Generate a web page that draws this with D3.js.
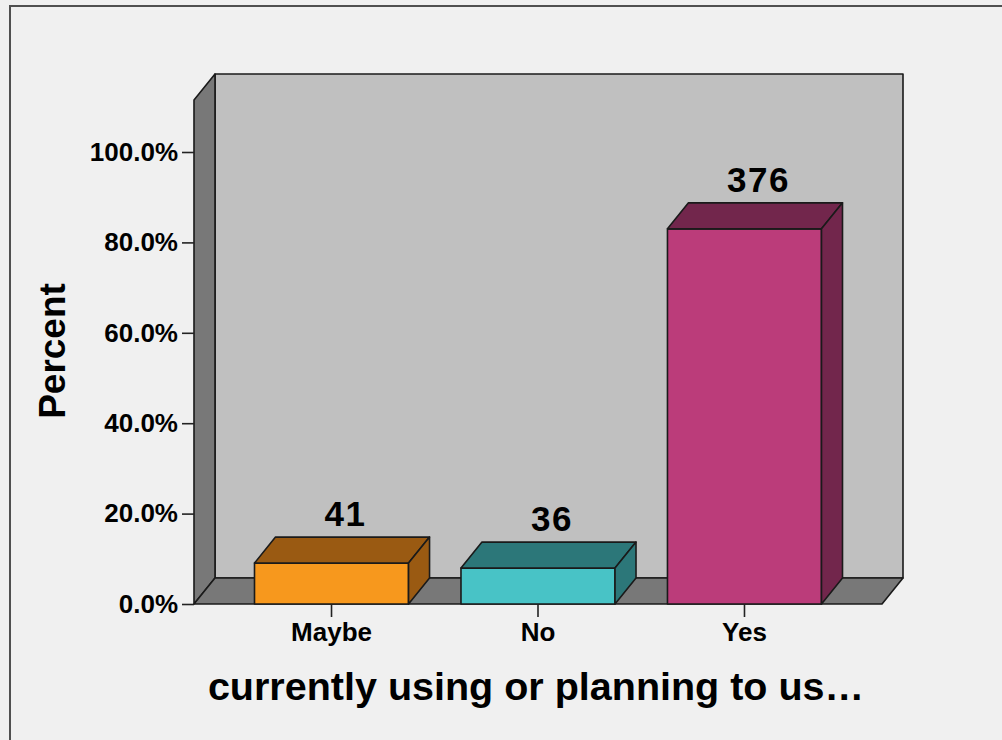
<!DOCTYPE html>
<html>
<head>
<meta charset="utf-8">
<script src="https://cdn.jsdelivr.net/npm/d3@7"></script>
<style>
  html, body { margin: 0; padding: 0; background: #f0f0f0; }
  svg { display: block; font-family: "Liberation Sans", Arial, sans-serif; }
</style>
</head>
<body>
<svg id="chart" width="1002" height="740"></svg>
<script>
// ---- data ----
const categories = ["Maybe", "No", "Yes"];
const counts = [41, 36, 376];
const frontColors = ["#f7981d", "#48c3c6", "#bb3c7a"];
const darkColors = ["#9a5a12", "#2c7779", "#72264c"];
const yTicks = [0, 20, 40, 60, 80, 100];
const yAxisMax = 111.5;
const yTitle = "Percent";
const xTitle = "currently using or planning to us\u2026";

const total = d3.sum(counts);
const percents = counts.map(c => c / total * 100);

// ---- layout ----
const svg = d3.select("#chart");
const W = 1002, H = 740;
const x0 = 194, x1 = 882;      // front floor edge
const yBottom = 604, yTop100 = 152;
const dx = 21, dy = -26;       // depth offset

svg.append("rect").attr("x", 0).attr("y", 0).attr("width", W).attr("height", H).attr("fill", "#f0f0f0");
// outer frame
svg.append("rect").attr("x", 10).attr("y", 6).attr("width", 1100).attr("height", 800)
  .attr("fill", "none").attr("stroke", "#505050").attr("stroke-width", 2);

const y = d3.scaleLinear().domain([0, 100]).range([yBottom, yTop100]);
const x = d3.scaleBand().domain(categories).range([x0, x1]).paddingInner(0.254).paddingOuter(0.293);

const yWallTop = y(yAxisMax);
const stroke = "#1a1a1a", sw = 1.6;

// back wall
svg.append("polygon")
  .attr("points", [[x0 + dx, yWallTop + dy], [x1 + dx, yWallTop + dy], [x1 + dx, yBottom + dy], [x0 + dx, yBottom + dy]].join(" "))
  .attr("fill", "#c0c0c0").attr("stroke", stroke).attr("stroke-width", sw).attr("stroke-linejoin", "round");
// side wall
svg.append("polygon")
  .attr("points", [[x0, yWallTop], [x0 + dx, yWallTop + dy], [x0 + dx, yBottom + dy], [x0, yBottom]].join(" "))
  .attr("fill", "#787878").attr("stroke", stroke).attr("stroke-width", sw).attr("stroke-linejoin", "round");
// floor
svg.append("polygon")
  .attr("points", [[x0, yBottom], [x0 + dx, yBottom + dy], [x1 + dx, yBottom + dy], [x1, yBottom]].join(" "))
  .attr("fill", "#787878").attr("stroke", stroke).attr("stroke-width", sw).attr("stroke-linejoin", "round");

// bars
const bars = svg.append("g").selectAll("g").data(categories).join("g");
bars.each(function (c, i) {
  const g = d3.select(this);
  const bx = x(c), bw = x.bandwidth(), by = y(percents[i]);
  // front
  g.append("polygon")
    .attr("points", [[bx, by], [bx + bw, by], [bx + bw, yBottom], [bx, yBottom]].join(" "))
    .attr("fill", frontColors[i]).attr("stroke", stroke).attr("stroke-width", sw).attr("stroke-linejoin", "round");
  // top
  g.append("polygon")
    .attr("points", [[bx, by], [bx + dx, by + dy], [bx + bw + dx, by + dy], [bx + bw, by]].join(" "))
    .attr("fill", darkColors[i]).attr("stroke", stroke).attr("stroke-width", sw).attr("stroke-linejoin", "round");
  // right side
  g.append("polygon")
    .attr("points", [[bx + bw, by], [bx + bw + dx, by + dy], [bx + bw + dx, yBottom + dy], [bx + bw, yBottom]].join(" "))
    .attr("fill", darkColors[i]).attr("stroke", stroke).attr("stroke-width", sw).attr("stroke-linejoin", "round");
  // value label
  g.append("text")
    .attr("x", bx + bw / 2 + 14)
    .attr("y", by + dy - 11)
    .attr("text-anchor", "middle")
    .attr("font-size", 35).attr("font-weight", "bold").attr("fill", "#000")
    .attr("letter-spacing", 1.5)
    .text(counts[i]);
});

// y axis
const yAxis = d3.axisLeft(y).tickValues(yTicks).tickSize(12).tickPadding(4)
  .tickFormat(d => d.toFixed(1) + "%");
const gy = svg.append("g").attr("transform", `translate(${x0},0)`).call(yAxis);
gy.select(".domain").remove();
gy.selectAll(".tick line").attr("stroke", "#222").attr("stroke-width", 1.6);
gy.selectAll(".tick text").attr("font-size", 26).attr("font-weight", "bold").attr("fill", "#000")
  .attr("font-family", "'Liberation Sans', Arial, sans-serif");

// x axis
const xAxis = d3.axisBottom(x).tickSize(13).tickPadding(6);
const gx = svg.append("g").attr("transform", `translate(0,${yBottom})`).call(xAxis);
gx.select(".domain").remove();
gx.selectAll(".tick line").attr("stroke", "#222").attr("stroke-width", 1.6);
gx.selectAll(".tick text").attr("font-size", 26).attr("font-weight", "bold").attr("fill", "#000")
  .attr("font-family", "'Liberation Sans', Arial, sans-serif");

// titles
svg.append("text")
  .attr("transform", `translate(65,351) rotate(-90)`)
  .attr("text-anchor", "middle")
  .attr("font-size", 37).attr("font-weight", "bold").attr("fill", "#000")
  .text(yTitle);

svg.append("text")
  .attr("x", 536).attr("y", 700)
  .attr("text-anchor", "middle")
  .attr("font-size", 39.5).attr("font-weight", "bold").attr("fill", "#000")
  .text(xTitle);
</script>
</body>
</html>
